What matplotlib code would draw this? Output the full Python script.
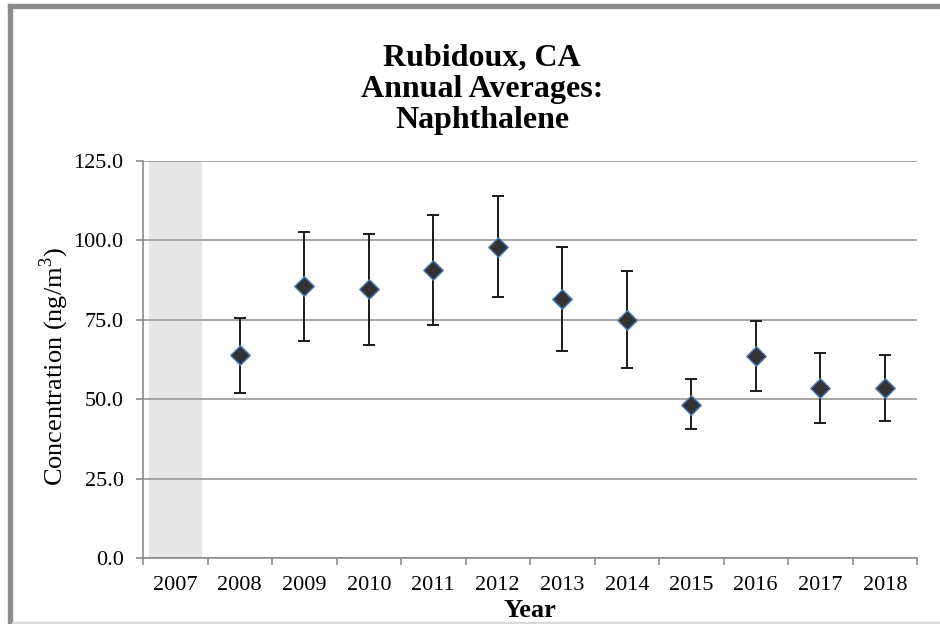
import matplotlib
matplotlib.use("Agg")
import matplotlib.pyplot as plt
from matplotlib.patches import Rectangle
import numpy as np

# ---- data ----
categories = ["2007", "2008", "2009", "2010", "2011", "2012", "2013",
              "2014", "2015", "2016", "2017", "2018"]
data_years = ["2008", "2009", "2010", "2011", "2012", "2013",
              "2014", "2015", "2016", "2017", "2018"]
means = [63.8, 85.6, 84.6, 90.7, 97.9, 81.7, 74.9, 48.3, 63.6, 53.4, 53.6]
upper = [75.7, 102.7, 102.1, 108.0, 113.9, 97.9, 90.3, 56.3, 74.6, 64.5, 63.8]
lower = [51.9, 68.2, 67.1, 73.4, 82.2, 65.3, 59.7, 40.6, 52.5, 42.5, 43.0]
shaded_years = ["2007"]
y_ticks = [0, 25, 50, 75, 100, 125]
y_max = 125

title_text = "Rubidoux, CA\nAnnual Averages:\nNaphthalene"
ylabel_text = "Concentration (ng/m$^3$)"
xlabel_text = "Year"

plt.rcParams['font.family'] = ['Liberation Serif', 'DejaVu Serif']
plt.rcParams['mathtext.fontset'] = 'custom'
plt.rcParams['mathtext.rm'] = 'Liberation Serif'

fig = plt.figure(figsize=(9.4, 6.24), dpi=100)
W, H = 940, 624
ax = fig.add_axes([143 / W, 1 - 558 / H, (917 - 143) / W, (558 - 161) / H])

xpos = {c: i for i, c in enumerate(categories)}

# shaded band(s)
for s in shaded_years:
    ax.bar(xpos[s], y_max, width=0.82, color="#e6e6e6", zorder=0.3, linewidth=0)

x = np.array([xpos[y] for y in data_years])
m = np.array(means)
err = np.vstack([m - np.array(lower), np.array(upper) - m])
ax.errorbar(x, m, yerr=err, fmt="none", ecolor="#1a1a1a", elinewidth=1.4,
            capsize=4.5, capthick=1.4, zorder=3)
ax.scatter(x, m, marker="D", s=100, facecolor="#333333", edgecolor="#4f81bd",
           linewidth=1.0, zorder=4)

ax.set_xlim(-0.5, len(categories) - 0.5)
ax.set_ylim(0, y_max)
ax.set_yticks(y_ticks)
ax.set_yticklabels([f"{v:.1f}" for v in y_ticks])
ax.set_xticks(range(len(categories)))
ax.set_xticklabels(categories)
ax.set_xticks(np.arange(-0.5, len(categories), 1.0), minor=True)
ax.tick_params(axis="x", which="major", length=0, pad=13, labelsize=16)
ax.tick_params(axis="x", which="minor", length=5, color="#8c8c8c", width=1.2)
ax.tick_params(axis="y", length=5, color="#8c8c8c", width=1.2, pad=9, labelsize=16)

ax.set_axisbelow(True)
ax.yaxis.grid(True, color="#a6a6a6", linewidth=1.4)
for s in ["top", "right"]:
    ax.spines[s].set_visible(False)
for s in ["left", "bottom"]:
    ax.spines[s].set_color("#8c8c8c")
    ax.spines[s].set_linewidth(1.2)

ax.set_ylabel(ylabel_text, fontsize=19)
ax.yaxis.set_label_coords(-0.093, 0.483)
ax.set_xlabel(xlabel_text, fontsize=19, fontweight="bold", labelpad=3)

fig.text(0.513, 1 - 43 / H, title_text, ha="center", va="top", fontsize=23,
         fontweight="bold", linespacing=1.12)

# outer frame
fig.patches.append(Rectangle((8 / W, 1 - 8 / H), 1 - 8 / W, 4 / H,
                             transform=fig.transFigure, color="#8c8c8c", zorder=0))
fig.patches.append(Rectangle((8 / W, 0), 4 / W, 1 - 4 / H,
                             transform=fig.transFigure, color="#8c8c8c", zorder=0))
fig.patches.append(Rectangle((12 / W, 1 - 623 / H), 1 - 12 / W, 1.5 / H,
                             transform=fig.transFigure, color="#d9d9d9", zorder=0))

fig.savefig("out.png", dpi=100)
